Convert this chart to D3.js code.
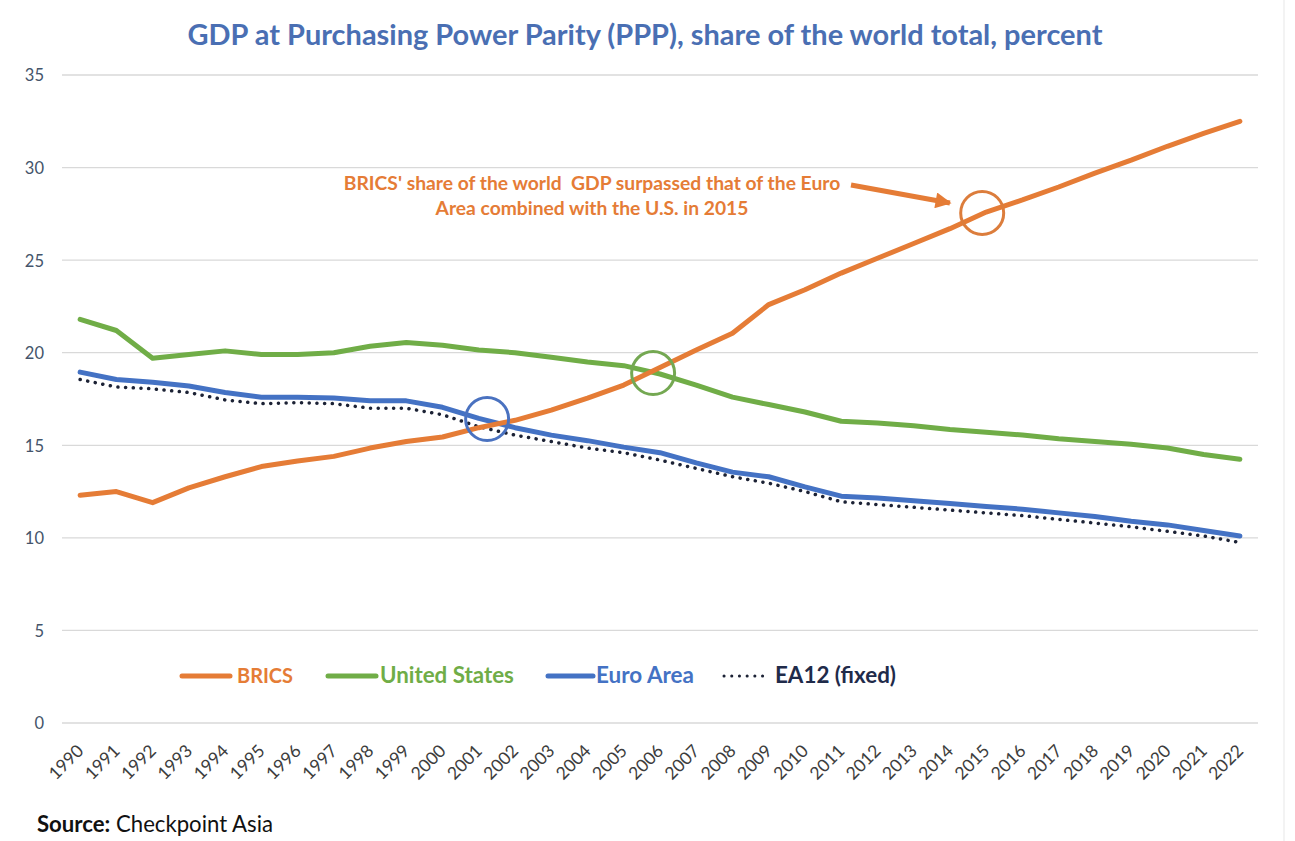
<!DOCTYPE html>
<html>
<head>
<meta charset="utf-8">
<script src="https://cdn.jsdelivr.net/npm/d3@7"></script>
<style>
  body { margin: 0; background: #fff; }
  svg { display: block; font-family: Lato, 'Open Sans', sans-serif; }
  .xlab text { font-size: 17.5px; }
  .ylab text { font-size: 16.5px; }
</style>
</head>
<body>
<div id="chart"></div>
<script>
// GDP (PPP) share of world total, percent
const years = [1990, 1991, 1992, 1993, 1994, 1995, 1996, 1997, 1998, 1999,
  2000, 2001, 2002, 2003, 2004, 2005, 2006, 2007, 2008, 2009,
  2010, 2011, 2012, 2013, 2014, 2015, 2016, 2017, 2018, 2019,
  2020, 2021, 2022];
const brics = [12.3, 12.5, 11.9, 12.7, 13.3, 13.85, 14.15, 14.4, 14.85, 15.2,
  15.45, 15.95, 16.35, 16.9, 17.55, 18.25, 19.2, 20.15, 21.05, 22.6,
  23.4, 24.3, 25.1, 25.9, 26.7, 27.6, 28.25, 28.95, 29.7, 30.4,
  31.15, 31.85, 32.5];
const us = [21.8, 21.2, 19.7, 19.9, 20.1, 19.9, 19.9, 20.0, 20.35, 20.55,
  20.4, 20.15, 20.0, 19.75, 19.5, 19.3, 18.85, 18.25, 17.6, 17.2,
  16.8, 16.3, 16.2, 16.05, 15.85, 15.7, 15.55, 15.35, 15.2, 15.05,
  14.85, 14.5, 14.25];
const euro = [18.95, 18.55, 18.4, 18.2, 17.85, 17.6, 17.6, 17.55, 17.4, 17.4,
  17.05, 16.45, 15.95, 15.55, 15.25, 14.9, 14.6, 14.05, 13.55, 13.3,
  12.75, 12.25, 12.15, 12.0, 11.85, 11.7, 11.55, 11.35, 11.15, 10.9,
  10.7, 10.4, 10.1];
const ea12 = [18.55, 18.15, 18.05, 17.85, 17.45, 17.25, 17.3, 17.25, 17.0, 17.0,
  16.65, 16.0, 15.55, 15.2, 14.85, 14.6, 14.2, 13.75, 13.3, 12.95,
  12.5, 11.95, 11.8, 11.65, 11.5, 11.35, 11.2, 11.0, 10.8, 10.6,
  10.35, 10.1, 9.75];
const yTicks = [0, 5, 10, 15, 20, 25, 30, 35];

const width = 1295, height = 841;
const plot = { left: 62, right: 1258, top: 75, bottom: 723 };

const C = {
  brics: '#e57c36', us: '#70ad47', euro: '#4472c4', ea12: '#1c2235',
  title: '#4a6fb3', axis: '#44546a', grid: '#d9d9d9'
};

const svg = d3.select('#chart').append('svg')
  .attr('width', width).attr('height', height);

// make a text element span a target width
function fit(sel, w) {
  const fs = parseFloat(sel.attr('font-size'));
  const len = sel.node().getComputedTextLength();
  sel.attr('font-size', (fs * w / len).toFixed(2));
}

const x = d3.scaleLinear()
  .domain([years[0] - 0.5, years[years.length - 1] + 0.5])
  .range([plot.left, plot.right]);
const y = d3.scaleLinear().domain([0, 35]).range([plot.bottom, plot.top]);

// gridlines
svg.append('g').selectAll('line').data(yTicks).enter().append('line')
  .attr('x1', plot.left).attr('x2', plot.right)
  .attr('y1', d => y(d)).attr('y2', d => y(d))
  .attr('stroke', C.grid).attr('stroke-width', 1.3);

// y axis labels
const ya = svg.append('g').attr('class', 'ylab').attr('transform', 'translate(44,0)')
  .call(d3.axisLeft(y).tickValues(yTicks).tickSize(0).tickPadding(0))
  .attr('font-family', null);
ya.select('.domain').remove();
ya.selectAll('text').attr('fill', C.axis).attr('dy', '0.36em');

// x axis labels
const xa = svg.append('g').attr('class', 'xlab').attr('transform', `translate(0,${plot.bottom})`)
  .call(d3.axisBottom(x).tickValues(years).tickSize(0).tickFormat(d3.format('d')))
  .attr('font-family', null);
xa.select('.domain').remove();
xa.selectAll('text')
  .attr('y', 0).attr('dy', 0)
  .attr('text-anchor', 'end')
  .attr('transform', 'translate(4,29) rotate(-45)')
  .attr('fill', '#3d3d3d');

// series
const line = d3.line().x((d, i) => x(years[i])).y(d => y(d));
const series = [
  { key: 'ea12', data: ea12, color: C.ea12, w: 3.5, dash: '0.1 7.6' },
  { key: 'us', data: us, color: C.us, w: 5 },
  { key: 'euro', data: euro, color: C.euro, w: 5 },
  { key: 'brics', data: brics, color: C.brics, w: 5 }
];
svg.append('g').selectAll('path').data(series).enter().append('path')
  .attr('d', d => line(d.data))
  .attr('fill', 'none')
  .attr('stroke', d => d.color)
  .attr('stroke-width', d => d.w)
  .attr('stroke-linejoin', 'round')
  .attr('stroke-linecap', 'round')
  .attr('stroke-dasharray', d => d.dash || null);

// highlight circles
const rings = [
  { yr: 2001.23, v: 16.42, color: '#4a72c0' },
  { yr: 2005.81, v: 18.9, color: '#74a852' },
  { yr: 2014.89, v: 27.55, color: '#dc7d3c' }
];
svg.append('g').selectAll('circle').data(rings).enter().append('circle')
  .attr('cx', d => x(d.yr)).attr('cy', d => y(d.v)).attr('r', 21.5)
  .attr('fill', 'none').attr('stroke', d => d.color).attr('stroke-width', 3);

// arrow
svg.append('defs').append('marker')
  .attr('id', 'head').attr('viewBox', '0 0 10 10')
  .attr('refX', 9).attr('refY', 5)
  .attr('markerWidth', 3.6).attr('markerHeight', 3.2)
  .attr('orient', 'auto')
  .append('path').attr('d', 'M0,0 L10,5 L0,10 Z').attr('fill', C.brics);
svg.append('line')
  .attr('x1', x(2011.27)).attr('y1', y(29.06))
  .attr('x2', x(2014.0)).attr('y2', y(28.09))
  .attr('stroke', C.brics).attr('stroke-width', 5)
  .attr('marker-end', 'url(#head)');

// annotation
const ann = svg.append('g').attr('fill', C.brics).attr('font-weight', 700)
  .attr('text-anchor', 'middle');
fit(ann.append('text').attr('x', 592).attr('y', 190).attr('font-size', 17)
  .text("BRICS' share of the world  GDP surpassed that of the Euro")
  .attr('xml:space', 'preserve'), 497);
fit(ann.append('text').attr('x', 592).attr('y', 215).attr('font-size', 17)
  .text('Area combined with the U.S. in 2015'), 313);

// title
fit(svg.append('text').attr('x', 645).attr('y', 45)
  .attr('text-anchor', 'middle').attr('font-weight', 700)
  .attr('fill', C.title).attr('font-size', 26)
  .text('GDP at Purchasing Power Parity (PPP), share of the world total, percent'), 915);

// legend
const legend = [
  { label: 'BRICS', color: C.brics, txt: C.brics, x0: 182, x1: 230, tx: 237, tw: 56 },
  { label: 'United States', color: C.us, txt: C.us, x0: 328, x1: 376, tx: 380, tw: 134 },
  { label: 'Euro Area', color: C.euro, txt: C.euro, x0: 548, x1: 593, tx: 596, tw: 98 },
  { label: 'EA12 (fixed)', color: C.ea12, txt: '#1f2b4a', x0: 724, x1: 767, tx: 775, tw: 121, dash: '0.1 7.6' }
];
const lg = svg.append('g');
legend.forEach(d => {
  lg.append('line').attr('x1', d.x0).attr('x2', d.x1).attr('y1', 676).attr('y2', 676)
    .attr('stroke', d.color).attr('stroke-width', d.dash ? 3 : 5)
    .attr('stroke-linecap', 'round')
    .attr('stroke-dasharray', d.dash || null);
  fit(lg.append('text').attr('x', d.tx).attr('y', 683)
    .attr('font-weight', 700).attr('fill', d.txt).attr('font-size', 19)
    .text(d.label), d.tw);
});

// source
const src = svg.append('text').attr('x', 37).attr('y', 832).attr('font-size', 19).attr('fill', '#111');
src.append('tspan').attr('font-weight', 700).text('Source:');
src.append('tspan').text(' Checkpoint Asia');
fit(src, 236);

// faint frame edge at right
svg.append('line').attr('x1', 1284).attr('x2', 1284).attr('y1', 0).attr('y2', height)
  .attr('stroke', '#efefef').attr('stroke-width', 1.5);
</script>
</body>
</html>
